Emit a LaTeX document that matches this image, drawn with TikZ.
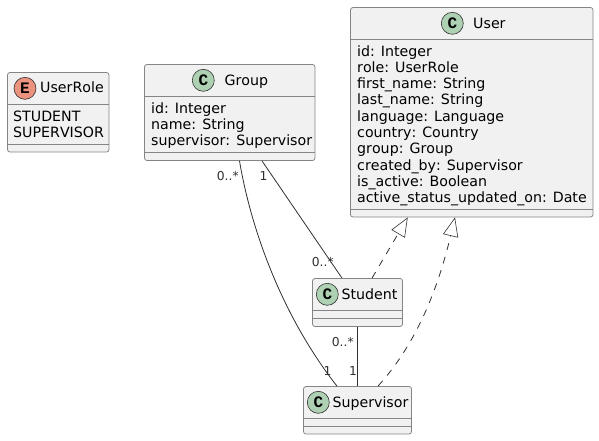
\documentclass[tikz,border=0pt]{standalone}
\usepackage{fontspec}
\setmainfont{DejaVu Sans}[Kerning=Off]
\newfontfamily\circlefont{Liberation Mono}[BoldFont={Liberation Mono Bold}]
\usetikzlibrary{positioning, arrows.meta, shapes.geometric}
\definecolor{boxfill}{HTML}{F1F1F1}
\definecolor{boxline}{HTML}{858585}
\definecolor{wireline}{HTML}{303030}
\definecolor{classgreen}{HTML}{ADD1B2}
\definecolor{enumred}{HTML}{EB937F}
\tikzset{
	classbox/.style={draw=boxline, fill=boxfill, line width=0.8pt, rounded corners=2.5pt, inner sep=0pt},
	divider/.style={draw=boxline, line width=0.8pt},
	badge/.style={circle, draw=wireline, line width=0.6pt, minimum size=22pt, inner sep=0pt, font=\circlefont\fontsize{16}{16}\selectfont\bfseries},
	titletext/.style={anchor=base west, inner sep=0pt, font=\fontsize{14.2}{16}\selectfont},
	membertext/.style={anchor=base west, inner sep=0pt, font=\fontsize{14.2}{16}\selectfont},
	multtext/.style={anchor=base west, inner sep=0pt, text=wireline, font=\fontsize{12.3}{13}\selectfont},
	assoc/.style={draw=wireline, line width=0.8pt},
	realize/.style={draw=wireline, line width=0.8pt, dash pattern=on 7pt off 7pt, -{Triangle[open, length=19pt, width=15.5pt, line width=0.6pt]}},
}
\begin{document}
\begin{tikzpicture}[x=1pt, y=-1pt]
	\useasboundingbox (0, 0) rectangle (599, 440);
	
	% UserRole
	\node[classbox, minimum width=101.5pt, minimum height=79.5pt] (userrole) at (58.25, 112.25) {};
	\draw[divider] (userrole.west |- 0, 104) -- (userrole.east |- 0, 104);
	\draw[divider] (userrole.west |- 0, 144) -- (userrole.east |- 0, 144);
	\node[badge, fill=enumred] (userrolebadge) at (25, 88.3) {E};
	\node[titletext] (userroletitle) at (40, 92.7) {UserRole};
	\foreach \txt [count=\i from 0] in {STUDENT, SUPERVISOR}
		\node[membertext] (userrolemember\i) at (13, 121.3+16*\i) {\txt};
	
	% Group
	\node[classbox, minimum width=170.5pt, minimum height=96pt] (group) at (229.75, 112.5) {};
	\draw[divider] (group.west |- 0, 96.5) -- (group.east |- 0, 96.5);
	\draw[divider] (group.west |- 0, 152.5) -- (group.east |- 0, 152.5);
	\node[badge, fill=classgreen] (groupbadge) at (203.3, 80.3) {C};
	\node[titletext] (grouptitle) at (224.3, 85) {Group};
	\foreach \txt [count=\i from 0] in {id: Integer, name: String, supervisor: Supervisor}
		\node[membertext] (groupmember\i) at (151, 113+16.3*\i) {\txt};
	
	% User
	\node[classbox, minimum width=242.5pt, minimum height=209.5pt] (user) at (471.75, 112.25) {};
	\draw[divider] (user.west |- 0, 39.5) -- (user.east |- 0, 39.5);
	\draw[divider] (user.west |- 0, 209) -- (user.east |- 0, 209);
	\node[badge, fill=classgreen] (userbadge) at (452.3, 23.3) {C};
	\node[titletext] (usertitle) at (473, 28) {User};
	\foreach \txt [count=\i from 0] in {id: Integer, role: UserRole, first\_name: String, last\_name: String, language: Language, country: Country, group: Group, created\_by: Supervisor, is\_active: Boolean, active\_status\_updated\_on: Date}
		\node[membertext] (usermember\i) at (357, 56+16.3*\i) {\txt};
	
	% Student
	\node[classbox, minimum width=90pt, minimum height=48pt] (student) at (357.5, 302.5) {};
	\draw[divider] (student.west |- 0, 310.5) -- (student.east |- 0, 310.5);
	\draw[divider] (student.west |- 0, 318.5) -- (student.east |- 0, 318.5);
	\node[badge, fill=classgreen] (studentbadge) at (327.3, 294.3) {C};
	\node[titletext] (studenttitle) at (341.3, 299) {Student};
	
	% Supervisor
	\node[classbox, minimum width=108pt, minimum height=47.5pt] (supervisor) at (357.5, 410.25) {};
	\draw[divider] (supervisor.west |- 0, 418.5) -- (supervisor.east |- 0, 418.5);
	\draw[divider] (supervisor.west |- 0, 426.5) -- (supervisor.east |- 0, 426.5);
	\node[badge, fill=classgreen] (supervisorbadge) at (318.3, 402.3) {C};
	\node[titletext] (supervisortitle) at (332.3, 407) {Supervisor};
	
	% Associations
	\draw[assoc] ([xshift=9.75pt]group.south) .. controls (252, 235) and (285, 320) .. ([xshift=-20.5pt]supervisor.north);
	\draw[assoc] ([xshift=32.25pt]group.south) -- ([xshift=-15.5pt]student.north);
	\draw[assoc] (student.south) -- (supervisor.north);
	
	% Realizations of User
	\draw[realize] ([xshift=14.5pt]student.north) -- ([xshift=-64pt]user.south);
	\draw[realize] ([xshift=20.5pt]supervisor.north) .. controls (420, 340) and (440, 280) .. ([xshift=-16.75pt]user.south);
	
	% Multiplicities
	\node[multtext] (groupmany) at (216.7, 180.7) {0..*};
	\node[multtext] (groupone) at (259.3, 180.7) {1};
	\node[multtext] (studentmany) at (311.7, 266.7) {0..*};
	\node[multtext] (studentbelow) at (331.7, 346) {0..*};
	\node[multtext] (supervisorleft) at (323.3, 375) {1};
	\node[multtext] (supervisorright) at (349, 375) {1};
\end{tikzpicture}
\end{document}
